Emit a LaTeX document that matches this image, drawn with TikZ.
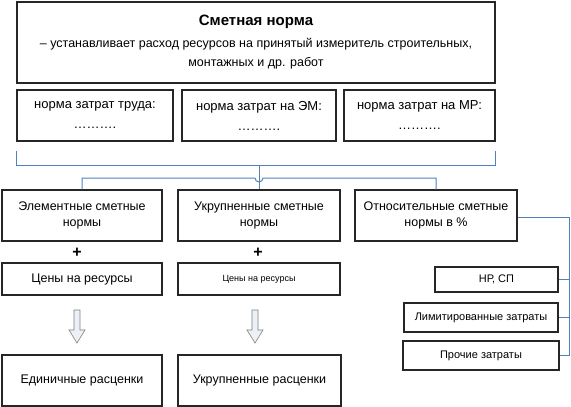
\documentclass[tikz,border=0pt]{standalone}
\usepackage{fontspec}
\setmainfont{Liberation Sans}
\definecolor{linkblue}{RGB}{79,129,189}
\definecolor{arrowfill}{RGB}{236,241,248}
\begin{document}
\begin{tikzpicture}[x=1pt,y=-1pt,
  box/.style={draw=black!85,line width=1.5pt,rectangle,inner sep=0pt,align=center,font=\fontsize{12.5}{15.5}\selectfont},
  bluelink/.style={draw=linkblue,line width=1pt},
  bigarrow/.style={draw=black!50,fill=arrowfill,line width=0.6pt},
  plus/.style={font=\fontsize{16}{16}\selectfont\bfseries,inner sep=0pt}]
\useasboundingbox (0,0) rectangle (571,407);
% top
\node[box,minimum width=478,minimum height=81,font=\fontsize{12.5}{19.5}\selectfont] (top) at (256,42.5)
  {{\fontsize{15}{20}\selectfont\bfseries Сметная норма}\\[2pt]
   – устанавливает расход ресурсов на принятый измеритель строительных,\\
   монтажных и др. работ};
% row 2
\node[box,minimum width=156,minimum height=51,font=\fontsize{13}{20}\selectfont] (na) at (95,115.5) {норма затрат труда:\\……….};
\node[box,minimum width=154,minimum height=51,font=\fontsize{13}{20}\selectfont] (nb) at (259,115.5) {норма затрат на ЭМ:\\……….};
\node[box,minimum width=151,minimum height=51,font=\fontsize{13}{20}\selectfont] (nc) at (419.5,115.5) {норма затрат на МР:\\……….};
% row 3
\node[box,minimum width=160,minimum height=51] (ea) at (82,215.5) {Элементные сметные\\нормы};
\node[box,minimum width=162,minimum height=51] (eb) at (259,215.5) {Укрупненные сметные\\нормы};
\node[box,minimum width=162,minimum height=51] (ec) at (436,215.5) {Относительные сметные\\нормы в \%};
% plus
\node[plus] (pa) at (77,253) {+};
\node[plus] (pb) at (258,253) {+};
% row 4
\node[box,minimum width=160,minimum height=32] (ca) at (82,279) {Цены на ресурсы};
\node[box,minimum width=162,minimum height=32,font=\fontsize{9}{11}\selectfont] (cb) at (259,279) {Цены на ресурсы};
% row 5
\node[box,minimum width=160,minimum height=51] (ra) at (82,380.5) {Единичные расценки};
\node[box,minimum width=163,minimum height=51] (rb) at (259.5,380.5) {Укрупненные расценки};
% right side
\node[box,line width=1.2pt,minimum width=123,minimum height=25,font=\fontsize{11}{13}\selectfont] (hp) at (496.5,279.5) {НР, СП};
\node[box,line width=1.2pt,minimum width=154,minimum height=29,font=\fontsize{11}{13}\selectfont] (lim) at (481,317.5) {Лимитированные затраты};
\node[box,line width=1.2pt,minimum width=156,minimum height=29,font=\fontsize{11}{13}\selectfont] (pr) at (481,355.5) {Прочие затраты};
% arrows
\foreach \n/\cx in {aa/77,ab/255}{
  \draw[bigarrow] (\cx-3,310) -- (\cx+3,310) -- (\cx+3,330) -- (\cx+8,330) -- (\cx,343) -- (\cx-8,330) -- (\cx-3,330) -- cycle;
}
% blue connectors
\coordinate (bl) at ([yshift=-9pt]na.south west);
\coordinate (br) at ([yshift=-9pt]nc.south east);
\coordinate (bm) at (nb.south |- 0,165);
\draw[bluelink] (bl) -- (bl |- bm) -- (br |- bm) -- (br);
\draw[bluelink] (bm) -- (eb.north);
\draw[bluelink] (ea.north) -- (82,178) -- (255,178) arc[start angle=180,end angle=0,radius=4] -- (436,178) -- (ec.north);
\coordinate (rr) at (569,217);
\draw[bluelink] (ec.east |- rr) -- (rr) -- (rr |- pr.east) -- (pr.east);
\draw[bluelink] (rr |- hp.east) -- (hp.east);
\draw[bluelink] (rr |- lim.east) -- (lim.east);
\end{tikzpicture}
\end{document}
